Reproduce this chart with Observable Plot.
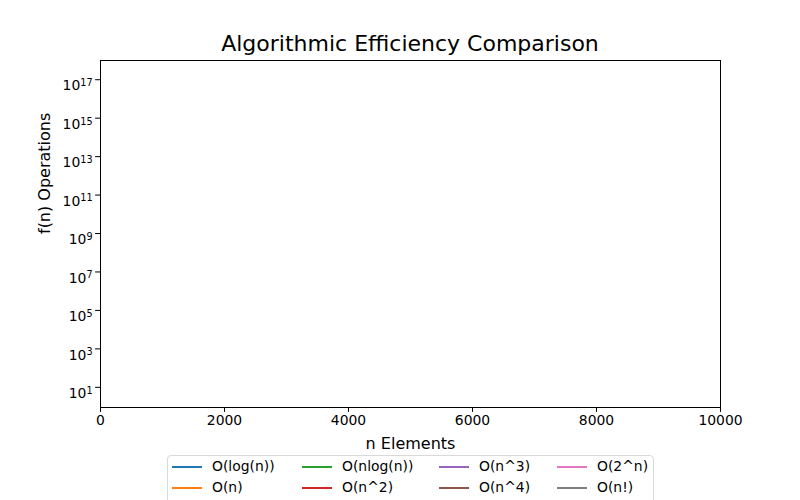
<!DOCTYPE html>
<html>
<head>
<meta charset="utf-8">
<script src="https://cdn.jsdelivr.net/npm/d3@7"></script>
<script src="https://cdn.jsdelivr.net/npm/@observablehq/plot@0.6"></script>
<style>
  html, body { margin: 0; padding: 0; background: #fff; }
  body { width: 800px; height: 500px; overflow: hidden; font-family: "DejaVu Sans", sans-serif; }
  #title { height: 50px; position: relative; }
  #title span { position: absolute; left: 410px; top: 31px; transform: translateX(-50%); font-size: 22px; color: #000; white-space: nowrap; }
  #legend { position: relative; height: 45px; }
  #legend .box { position: absolute; left: 167px; top: 0px; width: 485px; height: 60px; border: 1px solid #d9d9d9; border-radius: 4px; background: #fff; }
  #legend .item { position: absolute; font-size: 13.9px; color: #000; white-space: nowrap; }
  #legend .swatch { position: absolute; width: 30px; height: 2.8px; }
  svg { display: block; }
</style>
</head>
<body>
<div id="title"><span>Algorithmic Efficiency Comparison</span></div>
<div id="chart"></div>
<div id="legend"><div class="box"></div></div>
<script>
// Series shown in the legend (no line data visible in the reference)
const seriesNames = ["O(log(n))", "O(n)", "O(nlog(n))", "O(n^2)", "O(n^3)", "O(n^4)", "O(2^n)", "O(n!)"];
const seriesColors = ["#1f77b4", "#ff7f0e", "#2ca02c", "#d62728", "#9467bd", "#8c564b", "#e377c2", "#7f7f7f"];
const nValues = [];          // no points drawn in the reference
const seriesValues = seriesNames.map(() => []);
const xTicks = [0, 2000, 4000, 6000, 8000, 10000];
const yExponents = [1, 3, 5, 7, 9, 11, 13, 15, 17];

const rows = [];
seriesNames.forEach((name, i) => {
  seriesValues[i].forEach((v, j) => rows.push({series: name, n: nValues[j], f: v}));
});

const yTicks = yExponents.map(e => Math.pow(10, e));
const chart = Plot.plot({
  width: 800,
  height: 405,
  marginLeft: 100,
  marginRight: 80,
  marginTop: 10,
  marginBottom: 48,
  style: {fontFamily: "DejaVu Sans, sans-serif", fontSize: "13.9px", color: "#000", background: "#fff"},
  x: {domain: [0, 10000], label: null},
  y: {type: "log", domain: [Math.pow(10, -0.05), 1e18], label: null},
  color: {domain: seriesNames, range: seriesColors},
  marks: [
    Plot.line(rows, {x: "n", y: "f", stroke: "series", strokeWidth: 2}),
    Plot.frame({stroke: "#000", strokeWidth: 1}),
    Plot.axisX({ticks: xTicks, tickFormat: d => String(d), tickSize: 4.9, tickPadding: 3, fontSize: 13.9, label: null}),
    Plot.axisY({ticks: yTicks, tickFormat: d => "10^" + Math.round(Math.log10(d)), tickSize: 4.9, tickPadding: 3, fontSize: 13.9, label: null}),
    Plot.text(["n Elements"], {frameAnchor: "bottom", dy: 41, fontSize: 16, fill: "#000"}),
    Plot.text(["f(n) Operations"], {frameAnchor: "left", dx: -56, rotate: -90, fontSize: 16, fill: "#000"})
  ]
});
document.getElementById("chart").appendChild(chart);

// Render y tick labels as 10 with a superscript exponent
d3.select(chart).selectAll("g[aria-label='y-axis tick label'] text").each(function() {
  const s = this.textContent;
  if (!s.startsWith("10^")) return;
  const exp = s.slice(3);
  const t = d3.select(this);
  t.text("10");
  t.append("tspan").attr("dy", "-0.45em").attr("font-size", "9.7px").text(exp);
  t.attr("dy", "0.45em");
});

// Legend: 4 columns, 2 rows, column-major order
const legend = document.getElementById("legend");
const colX = [5, 135, 272, 390];
const rowY = [12, 33];
seriesNames.forEach((name, i) => {
  const c = Math.floor(i / 2), r = i % 2;
  const sw = document.createElement("div");
  sw.className = "swatch";
  sw.style.left = (167 + colX[c]) + "px";
  sw.style.top = (rowY[r] - 1.4) + "px";
  sw.style.background = seriesColors[i];
  legend.appendChild(sw);
  const t = document.createElement("div");
  t.className = "item";
  t.textContent = name;
  t.style.left = (167 + colX[c] + 40) + "px";
  t.style.top = (rowY[r] - 9) + "px";
  legend.appendChild(t);
});
</script>
</body>
</html>
